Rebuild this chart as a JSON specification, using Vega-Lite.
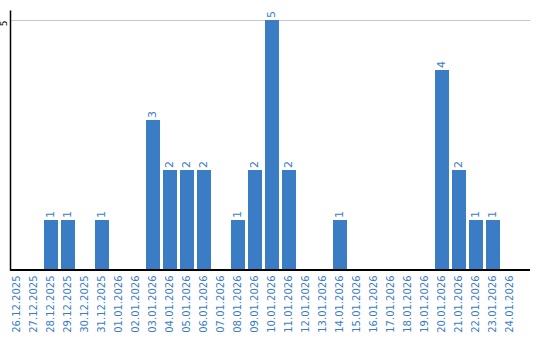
{
  "$schema": "https://vega.github.io/schema/vega-lite/v6.json",
  "width": 520,
  "height": 260,
  "autosize": {"type": "none"},
  "padding": {"left": 10, "top": 10, "right": 10, "bottom": 70},
  "config": {
    "view": {"stroke": null},
    "font": "DejaVu Sans"
  },
  "data": {
    "values": [
      {"date": "26.12.2025", "count": 0},
      {"date": "27.12.2025", "count": 0},
      {"date": "28.12.2025", "count": 1},
      {"date": "29.12.2025", "count": 1},
      {"date": "30.12.2025", "count": 0},
      {"date": "31.12.2025", "count": 1},
      {"date": "01.01.2026", "count": 0},
      {"date": "02.01.2026", "count": 0},
      {"date": "03.01.2026", "count": 3},
      {"date": "04.01.2026", "count": 2},
      {"date": "05.01.2026", "count": 2},
      {"date": "06.01.2026", "count": 2},
      {"date": "07.01.2026", "count": 0},
      {"date": "08.01.2026", "count": 1},
      {"date": "09.01.2026", "count": 2},
      {"date": "10.01.2026", "count": 5},
      {"date": "11.01.2026", "count": 2},
      {"date": "12.01.2026", "count": 0},
      {"date": "13.01.2026", "count": 0},
      {"date": "14.01.2026", "count": 1},
      {"date": "15.01.2026", "count": 0},
      {"date": "16.01.2026", "count": 0},
      {"date": "17.01.2026", "count": 0},
      {"date": "18.01.2026", "count": 0},
      {"date": "19.01.2026", "count": 0},
      {"date": "20.01.2026", "count": 4},
      {"date": "21.01.2026", "count": 2},
      {"date": "22.01.2026", "count": 1},
      {"date": "23.01.2026", "count": 1},
      {"date": "24.01.2026", "count": 0}
    ]
  },
  "encoding": {
    "x": {
      "field": "date",
      "type": "ordinal",
      "sort": null,
      "scale": {"paddingInner": 0.176, "paddingOuter": 0.382, "align": 0},
      "axis": {
        "title": null,
        "domain": false,
        "ticks": false,
        "tickSize": 0,
        "labelAngle": -90,
        "labelPadding": 5,
        "labelFontSize": 10,
        "labelColor": "#3b7dc4",
        "labelFont": "DejaVu Sans"
      }
    },
    "y": {
      "field": "count",
      "type": "quantitative",
      "scale": {"domain": [0, 5.2], "nice": false, "zero": true},
      "axis": {
        "title": null,
        "values": [5],
        "ticks": false,
        "tickSize": 0,
        "domainColor": "#000000",
        "domainWidth": 1.5,
        "gridColor": "#c8c8c8",
        "gridWidth": 1,
        "labelAngle": -90,
        "labelAlign": "center",
        "labelBaseline": "bottom",
        "labelPadding": 2,
        "labelOffset": 3,
        "labelFontSize": 9,
        "labelColor": "#000000"
      }
    }
  },
  "layer": [
    {
      "mark": {"type": "bar", "color": "#3b7dc4"}
    },
    {
      "transform": [{"filter": "datum.count > 0"}],
      "mark": {
        "type": "text",
        "angle": 270,
        "align": "left",
        "baseline": "middle",
        "dx": 2,
        "fontSize": 11,
        "color": "#3b7dc4"
      },
      "encoding": {"text": {"field": "count", "type": "quantitative"}}
    },
    {
      "mark": {"type": "rule", "color": "#000000", "strokeWidth": 1.5},
      "encoding": {"y": {"datum": 0}, "x": null}
    }
  ]
}
